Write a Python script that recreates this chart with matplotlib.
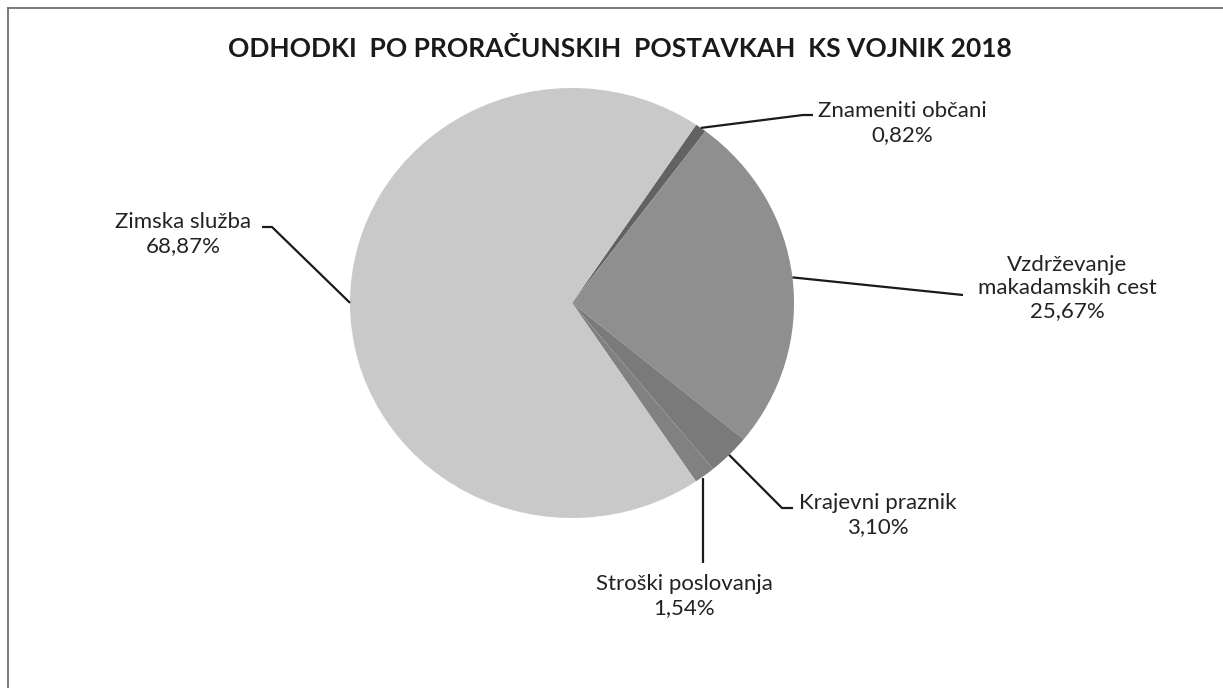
import numpy as np
import matplotlib
matplotlib.use("Agg")
import matplotlib.pyplot as plt

# ---- data ----
categories = ["Znameniti občani", "Vzdrževanje\nmakadamskih cest", "Krajevni praznik",
              "Stroški poslovanja", "Zimska služba"]
values = [0.82, 25.67, 3.10, 1.54, 68.87]
value_labels = ["0,82%", "25,67%", "3,10%", "1,54%", "68,87%"]
title = "ODHODKI  PO PRORAČUNSKIH  POSTAVKAH  KS VOJNIK 2018"

# ---- style ----
colors = ["#626262", "#8f8f8f", "#7a7a7a", "#818181", "#c9c9c9"]
W, H = 1223, 688
fig = plt.figure(figsize=(W / 100, H / 100), dpi=100)
fig.patch.set_facecolor("white")

# pie geometry (pixels)
cx, cy, rx, ry = 572, 303, 222, 215
ax = fig.add_axes([(cx - rx) / W, (H - cy - ry) / H, 2 * rx / W, 2 * ry / H])
wedges, _ = ax.pie(values, colors=colors, startangle=56, counterclock=False,
                   radius=1, wedgeprops=dict(linewidth=0))
ax.set_aspect("auto")
ax.set_xlim(-1, 1)
ax.set_ylim(-1, 1)
ax.axis("off")

# overlay in pixel coordinates
ov = fig.add_axes([0, 0, 1, 1], zorder=5)
ov.set_xlim(0, W)
ov.set_ylim(H, 0)
ov.axis("off")
ov.patch.set_alpha(0)

def edge_px(w):
    ang = np.deg2rad((w.theta1 + w.theta2) / 2)
    return cx + rx * np.cos(ang), cy - ry * np.sin(ang)

# leader paths (after the edge point) and label anchors
paths = [
    [(803, 115), (813, 115)],
    [(963, 295)],
    [(782, 508), (793, 508)],
    [(703, 563)],
    [(272, 227), (262, 227)],
]
label_pos = [(902, 123), (1067, 288), (878, 515), (684, 596), (183, 234)]
spacing = [1.2, 1.2, 1.2, 1.2, 1.3]

font = ["Lato", "DejaVu Sans"]
for w, pth, lp, cat, vl, ls in zip(wedges, paths, label_pos, categories, value_labels, spacing):
    x0, y0 = edge_px(w)
    if cat.startswith("Stroški"):
        x0 = pth[0][0]
        y0 = y0 + 3
    xs = [x0] + [p[0] for p in pth]
    ys = [y0] + [p[1] for p in pth]
    ov.plot(xs, ys, color="#1a1a1a", lw=1.6, solid_capstyle="butt")
    ov.text(lp[0], lp[1], cat + "\n" + vl, ha="center", va="center",
            fontsize=16, family=font, color="#222222", linespacing=ls,
            multialignment="center")

ov.text(620, 49, title, ha="center", va="center", fontsize=19,
        fontweight="bold", family=font, color="#1a1a1a")

# frame lines
ov.plot([8, W], [8, 8], color="#666666", lw=1.2)
ov.plot([8, 8], [8, H], color="#666666", lw=1.2)

fig.savefig("out.png", dpi=100, facecolor="white")
